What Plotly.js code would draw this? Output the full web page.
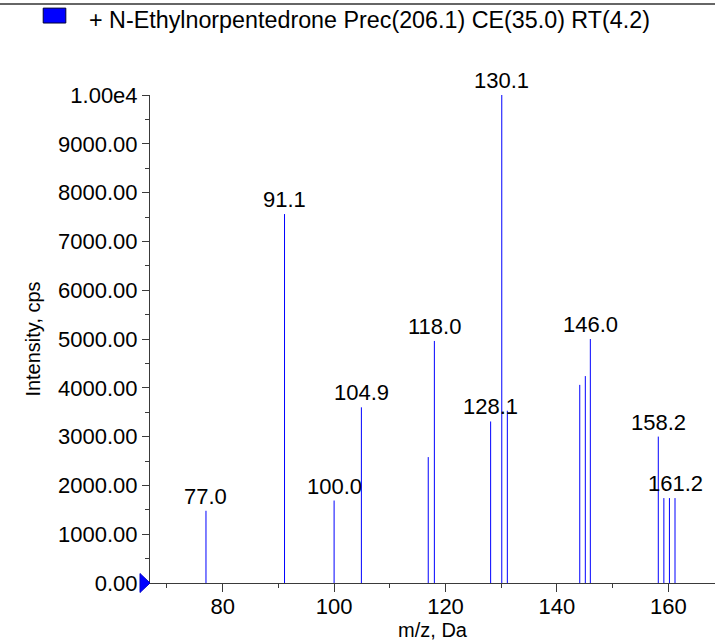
<!DOCTYPE html>
<html>
<head>
<meta charset="utf-8">
<script src="https://cdn.plot.ly/plotly-3.0.1.min.js"></script>
<style>html,body{margin:0;padding:0;background:#fff;}#chart{width:715px;height:641px;}</style>
</head>
<body>
<div id="chart"></div>
<script>
// ---- data ----
const mz = [77.0, 91.1, 100.0, 104.9, 116.9, 118.0, 128.1, 130.1, 131.1, 144.1, 145.1, 146.0, 158.2, 159.2, 160.2, 161.2];
const intensity = [1480, 7560, 1690, 3600, 2580, 4960, 3310, 10000, 3530, 4060, 4240, 5000, 3000, 1740, 1740, 1740];
const labelledPeaks = [77.0, 91.1, 100.0, 104.9, 118.0, 128.1, 130.1, 146.0, 158.2, 161.2];
const xTickVals = [80, 100, 120, 140, 160];
const xTickText = ['80', '100', '120', '140', '160'];
const yTickVals = [0, 1000, 2000, 3000, 4000, 5000, 6000, 7000, 8000, 9000, 10000];
const yTickText = ['0.00', '1000.00', '2000.00', '3000.00', '4000.00', '5000.00', '6000.00', '7000.00', '8000.00', '9000.00', '1.00e4'];
const legendText = '+ N-Ethylnorpentedrone Prec(206.1) CE(35.0) RT(4.2)';
const xTitle = 'm/z, Da';
const yTitle = 'Intensity, cps';
const xRange = [66.95, 168.38];
const yRange = [0, 10000];

// ---- build stick segments ----
const sx = [], sy = [];
mz.forEach((m, i) => { sx.push(m, m, null); sy.push(0, intensity[i], null); });

const FONT = '"Liberation Sans", Arial, sans-serif';
const AX = '#3a3a3a';
const TXT = '#000';

const annotations = labelledPeaks.map(p => {
  const i = mz.indexOf(p);
  return {x: p, y: intensity[i], xref: 'x', yref: 'y', text: p.toFixed(1), showarrow: false,
          xanchor: 'center', yanchor: 'bottom', yshift: 0, font: {family: FONT, size: 22, color: TXT}};
});
annotations.push({xref: 'paper', yref: 'paper', x: -0.1115, y: 1.1537, xanchor: 'left', yanchor: 'middle',
  text: legendText, showarrow: false, font: {family: FONT, size: 23.3, color: TXT}});

const traces = [{
  x: sx, y: sy, type: 'scatter', mode: 'lines',
  line: {color: '#0000ff', width: 1}, hoverinfo: 'skip', showlegend: false
}];

const layout = {
  width: 715, height: 641,
  margin: {l: 150, r: 0, t: 95, b: 58, pad: 0},
  paper_bgcolor: '#fff', plot_bgcolor: '#fff',
  showlegend: false,
  font: {family: FONT, size: 22, color: TXT},
  xaxis: {
    range: xRange, showgrid: false, zeroline: false,
    showline: true, linecolor: AX, linewidth: 1,
    ticks: 'outside', ticklen: 8, tickcolor: AX, tickwidth: 1,
    ticklabelstandoff: -4,
    tickmode: 'array', tickvals: xTickVals, ticktext: xTickText,
    minor: {tickmode: 'array', tickvals: [70, 90, 110, 130, 150, 170], ticks: 'outside', ticklen: 4, tickcolor: AX},
    tickfont: {family: FONT, size: 22, color: TXT},
    title: {text: xTitle, font: {family: FONT, size: 20, color: TXT}, standoff: 2}
  },
  yaxis: {
    range: yRange, showgrid: false, zeroline: false,
    showline: true, linecolor: AX, linewidth: 1,
    ticks: 'outside', ticklen: 7, tickcolor: AX, tickwidth: 1,
    tickmode: 'array', tickvals: yTickVals, ticktext: yTickText,
    minor: {dtick: 500, ticks: 'outside', ticklen: 4, tickcolor: AX},
    tickfont: {family: FONT, size: 22, color: TXT},
    title: {text: yTitle, font: {family: FONT, size: 20, color: TXT}, standoff: 12}
  },
  annotations: annotations,
  shapes: [
    // legend swatch
    {type: 'rect', xref: 'paper', yref: 'paper', x0: -0.189, x1: -0.149, y0: 1.1475, y1: 1.178,
     fillcolor: '#0000ff', line: {color: '#000033', width: 1}},
    // top border line
    {type: 'line', xref: 'paper', yref: 'paper', x0: -0.2655, x1: 1, y0: 1.1865, y1: 1.1865,
     line: {color: '#333', width: 1.5}},
    // precursor marker at the origin
    {type: 'path', xref: 'paper', yref: 'paper', xsizemode: 'pixel', ysizemode: 'pixel',
     xanchor: 0, yanchor: 0, path: 'M -10 -9.5 L 0 0 L -10 9.5 Z',
     fillcolor: '#0000ff', line: {color: '#0000cc', width: 1}}
  ]
};

Plotly.newPlot('chart', traces, layout, {displayModeBar: false, staticPlot: true});
</script>
</body>
</html>
